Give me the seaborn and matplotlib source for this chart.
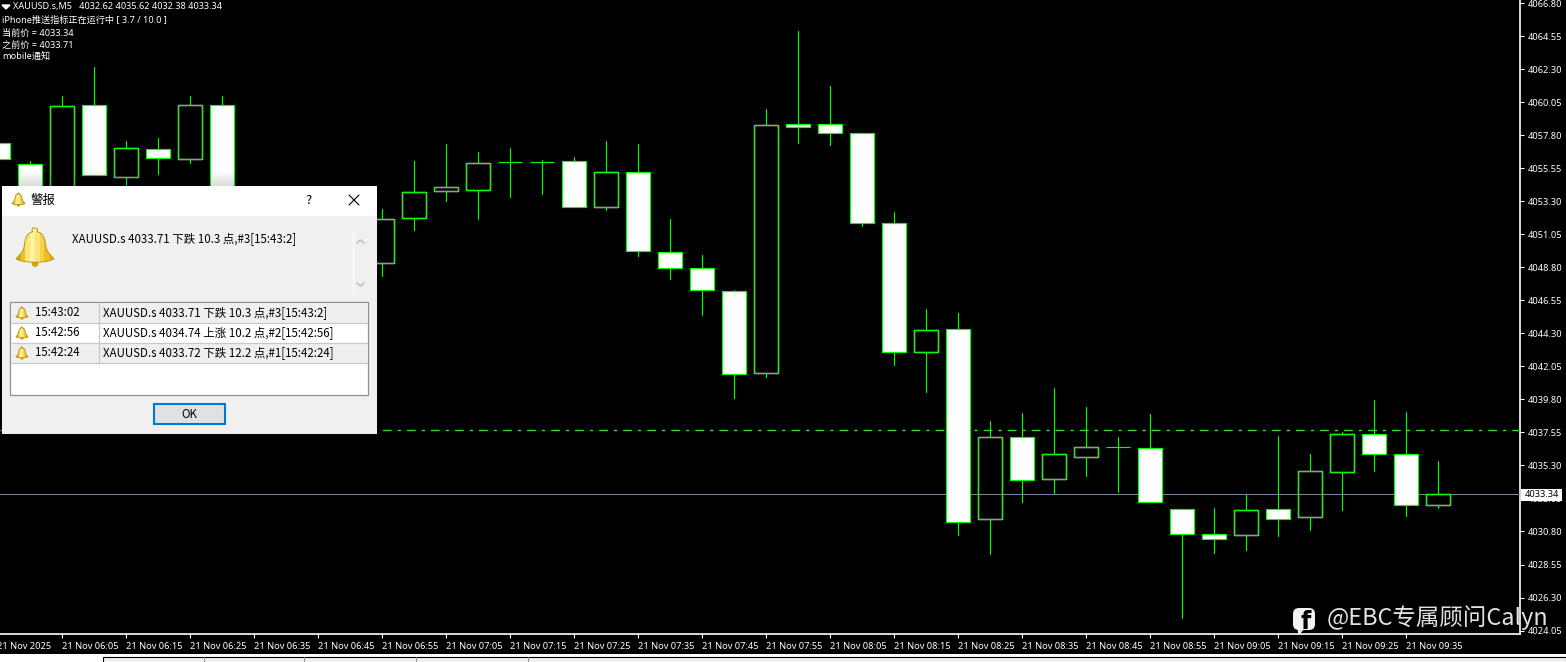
import matplotlib
matplotlib.use("Agg")
import matplotlib.pyplot as plt
from matplotlib.patches import FancyBboxPatch, PathPatch, Rectangle
from matplotlib.path import Path
import numpy as np
import pandas as pd
import seaborn as sns

nan = float("nan")

# Candles from 05:55 to 09:40, 5 minutes each. The nan ones sit behind the alert window
times = ["05:55", "06:00", "06:05", "06:10", "06:15", "06:20", "06:25", "06:30", "06:35", "06:40",
         "06:45", "06:50", "06:55", "07:00", "07:05", "07:10", "07:15", "07:20", "07:25", "07:30",
         "07:35", "07:40", "07:45", "07:50", "07:55", "08:00", "08:05", "08:10", "08:15", "08:20",
         "08:25", "08:30", "08:35", "08:40", "08:45", "08:50", "08:55", "09:00", "09:05", "09:10",
         "09:15", "09:20", "09:25", "09:30", "09:35", "09:40"]
opens = [4057.29, 4055.82, 4054.08, 4059.88, 4054.94, 4056.85, 4056.20, 4059.84, nan, nan,
         nan, nan, 4049.09, 4052.15, 4053.99, 4054.06, 4055.95, 4055.97, 4056.01, 4052.90,
         4055.29, 4049.84, 4048.75, 4047.18, 4041.57, 4058.55, 4058.55, 4057.94, 4051.80, 4043.00,
         4044.57, 4031.62, 4037.21, 4034.41, 4035.85, 4036.56, 4036.46, 4032.30, 4030.60, 4030.54,
         4032.31, 4031.77, 4034.84, 4037.43, 4036.06, 4032.62]
highs = [4057.29, 4056.06, 4060.49, 4062.47, 4057.43, 4057.63, 4060.49, 4060.49, nan, nan,
         nan, nan, 4052.77, 4056.06, 4057.22, 4056.68, 4056.95, 4056.13, 4056.34, 4057.43,
         4057.22, 4052.11, 4049.65, 4047.27, 4059.61, 4064.93, 4061.18, 4057.97, 4052.58, 4045.97,
         4045.70, 4038.33, 4038.88, 4040.58, 4039.29, 4037.24, 4038.81, 4032.33, 4032.40, 4033.29,
         4037.31, 4036.08, 4037.60, 4039.77, 4038.95, 4035.62]
lows = [4056.20, 4053.47, 4053.50, 4055.11, 4054.43, 4055.18, 4055.93, 4054.00, nan, nan,
        nan, nan, 4048.24, 4051.31, 4053.35, 4052.09, 4053.56, 4053.76, 4052.90, 4052.67,
        4049.60, 4047.97, 4045.56, 4039.92, 4041.33, 4057.29, 4057.15, 4051.63, 4042.15, 4040.31,
        4030.56, 4029.27, 4032.81, 4033.42, 4034.58, 4033.49, 4032.78, 4024.90, 4029.34, 4029.54,
        4030.51, 4030.92, 4032.24, 4034.95, 4031.88, 4032.38]
closes = [4056.20, 4053.47, 4059.81, 4055.11, 4056.91, 4056.27, 4059.84, 4054.08, nan, nan,
          nan, nan, 4052.09, 4053.93, 4054.27, 4055.90, 4055.95, 4055.97, 4052.90, 4055.29,
          4049.90, 4048.75, 4047.25, 4041.52, 4058.48, 4058.38, 4057.97, 4051.80, 4043.00, 4044.50,
          4031.48, 4037.21, 4034.34, 4036.05, 4036.55, 4036.56, 4032.78, 4030.66, 4030.26, 4032.23,
          4031.63, 4034.90, 4037.43, 4036.06, 4032.59, 4033.34]

price_ticks = [4066.80, 4064.55, 4062.30, 4060.05, 4057.80, 4055.55, 4053.30, 4051.05, 4048.80, 4046.55,
               4044.30, 4042.05, 4039.80, 4037.55, 4035.30, 4033.05, 4030.80, 4028.55, 4026.30, 4024.05]
current_price = 4033.34
alert_level = 4037.70

legend_lines = ["iPhone推送指标正在运行中 [ 3.7 / 10.0 ]", "当前价 = 4033.34", "之前价 = 4033.71", "mobile通知"]
alert_times = ["15:43:02", "15:42:56", "15:42:24"]
alert_texts = ["XAUUSD.s 4033.71 下跌 10.3 点,#3[15:43:2]",
               "XAUUSD.s 4034.74 上涨 10.2 点,#2[15:42:56]",
               "XAUUSD.s 4033.72 下跌 12.2 点,#1[15:42:24]"]

W, H = 1566, 662
GREEN = "#00ff00"
FONT = ["Noto Sans", "Noto Sans CJK SC", "DejaVu Sans"]
DIALOG_FONT = ["Noto Sans CJK SC", "DejaVu Sans"]

sns.set_theme(style="dark", rc={"axes.facecolor": "black", "figure.facecolor": "black"})
plt.rcParams["font.family"] = FONT

df = pd.DataFrame({"time": times, "open": opens, "high": highs, "low": lows, "close": closes})
df["bar"] = np.arange(len(df))
shown = df.dropna()
down = shown[shown["close"] <= shown["open"]]
up = shown[shown["close"] > shown["open"]]
wicks = shown.melt(id_vars="bar", value_vars=["high", "low"], value_name="price")
wicks["candle"] = wicks["bar"]

fig = plt.figure(figsize=(W / 100, H / 100), dpi=100)
ax = fig.add_axes([0, 1 - 633.5 / H, 1519.5 / W, 633.5 / H])

sns.lineplot(data=wicks, x="bar", y="price", units="candle", estimator=None, color=GREEN,
             lw=0.8, legend=False, ax=ax, zorder=2)
ax.bar(up["bar"], up["close"] - up["open"], bottom=up["open"], width=0.75, color="black", zorder=3)
ax.axhline(current_price, color="#7488a4", lw=0.72, zorder=4)
ax.axhline(alert_level, color="#28e028", lw=1.0, ls=(1.44, (6.3, 4.3, 2.4, 4.3)), zorder=4)
ax.bar(down["bar"], down["close"] - down["open"], bottom=down["open"], width=0.75, color="white",
       edgecolor=GREEN, lw=0.85, zorder=5)
ax.bar(up["bar"], up["close"] - up["open"], bottom=up["open"], width=0.75, facecolor="none",
       edgecolor=GREEN, lw=0.75, zorder=5)

ax.set_xlim(2 / 32, 1521.5 / 32)
ax.set_ylim(4023.85, 4067.01)
ax.set_xlabel("")
ax.set_ylabel("")
ax.grid(False)
for side in ["top", "left"]:
    ax.spines[side].set_visible(False)
for side in ["right", "bottom"]:
    ax.spines[side].set_color("white")
    ax.spines[side].set_linewidth(1.2)

ax.yaxis.tick_right()
ax.set_yticks(price_ticks, ["{:.2f}".format(p) for p in price_ticks])
ax.tick_params(axis="y", length=3, width=0.8, color="white", labelcolor="white", labelsize=6.65, pad=3, right=True)
tick_bars = list(range(2, 45, 2))
ax.set_xticks(tick_bars, ["21 Nov " + times[i] for i in tick_bars], ha="left")
ax.tick_params(axis="x", length=3, width=0.8, color="white", labelcolor="white", labelsize=6.65, pad=3, bottom=True)
ax.text(-0.03, -0.0135, "21 Nov 2025", transform=ax.get_xaxis_transform(), color="white", fontsize=6.65,
        ha="left", va="top", clip_on=False)

# everything outside the plot, in screen pixels
ov = fig.add_axes([0, 0, 1, 1], facecolor="none", zorder=10)
ov.set_xlim(0, W)
ov.set_ylim(H, 0)
ov.axis("off")


def bell(cx, cy, r):
    verts = [(0, -1), (-0.14, -1), (-0.16, -0.82), (-0.12, -0.8),
             (-0.5, -0.72), (-0.52, -0.35), (-0.58, 0.0),
             (-0.62, 0.3), (-0.9, 0.5), (-1, 0.62),
             (-0.7, 0.86), (0.7, 0.86), (1, 0.62),
             (0.9, 0.5), (0.62, 0.3), (0.58, 0.0),
             (0.52, -0.35), (0.5, -0.72), (0.12, -0.8),
             (0.16, -0.82), (0.14, -1), (0, -1)]
    codes = [Path.MOVETO] + [Path.LINETO] * 3 + [Path.CURVE4] * 18
    path = Path([(cx + x * r, cy + y * r) for x, y in verts], codes)
    shape = PathPatch(path, facecolor="none", edgecolor="#b88a08", lw=0.6, zorder=23)
    ov.add_patch(shape)
    grad = np.array([[0.0, 0.35, 0.8, 1.0, 0.8, 0.55, 0.3, 0.15]])
    cmap = matplotlib.colors.LinearSegmentedColormap.from_list("gold", ["#d9a600", "#f5d040", "#fff2a0"])
    im = ov.imshow(grad, cmap=cmap, extent=(cx - r, cx + r, cy + r, cy - r), aspect="auto", zorder=22)
    im.set_clip_path(shape)
    ov.add_patch(plt.Circle((cx, cy + 0.87 * r), 0.14 * r, color="#d6a400", zorder=21))


def dlg_text(x, y, s, size=8.25, color="black", ha="left"):
    ov.text(x, y, s, fontsize=size, color=color, ha=ha, va="center", family=DIALOG_FONT, zorder=25)


def rect(x0, y0, x1, y1, **kw):
    ov.add_patch(Rectangle((x0, y0), x1 - x0, y1 - y0, **kw))


# chart header
ov.add_patch(plt.Polygon([(2, 5), (10, 5), (6, 9)], color="white"))
ov.text(13, 7, "XAUUSD.s,M5   4032.62 4035.62 4032.38 4033.34", color="white", fontsize=6.55, va="center")
for y, s in zip([20.5, 33, 45, 57], legend_lines):
    ov.text(2, y, s, color="white", fontsize=6.6, va="center")

# price tag on the axis
rect(1521, 489, 1562, 500.5, facecolor="white", edgecolor="none", zorder=6)
ov.text(1541.5, 494.7, "4033.34", color="black", fontsize=6.65, ha="center", va="center", zorder=7)

# window strip at the bottom
rect(0, 654, W, H, facecolor="white", edgecolor="none")
rect(102.5, 656.7, W, H + 2, facecolor="#f0f0f0", edgecolor="black", lw=0.8)
for x in [203.5, 303.5, 415.5, 527.5]:
    ov.plot([x, x], [657, H], color="#8a8a8a", lw=0.7)

# shadow of the alert window on the candles above it
shadow = np.zeros((16, 2, 4))
shadow[:, :, 3] = np.linspace(0, 0.14, 16)[:, None]
ov.imshow(shadow, extent=(0, 384, 186, 170), aspect="auto", zorder=15)

# alert window
rect(2, 186, 377, 434, facecolor="#f0f0f0", edgecolor="none", zorder=20)
rect(2, 186, 377, 216, facecolor="white", edgecolor="none", zorder=20)
bell(18.5, 199.5, 6.5)
dlg_text(31, 200.5, "警报", size=9)
dlg_text(309, 200, "?", size=9.5, ha="center")
ov.plot([349, 359], [195, 205], color="black", lw=0.8, zorder=25)
ov.plot([349, 359], [205, 195], color="black", lw=0.8, zorder=25)
bell(35, 247, 19)
dlg_text(72, 239, alert_texts[0])
ov.plot([352.5, 352.5], [232, 293], color="white", lw=0.9, zorder=25)
ov.plot([357, 360.5, 364], [243, 240, 243], color="#c4c4c4", lw=1.3, zorder=25)
ov.plot([357, 360.5, 364], [283, 286, 283], color="#c4c4c4", lw=1.3, zorder=25)

rect(10, 301.5, 368, 394.5, facecolor="white", edgecolor="#8e8f94", lw=0.9, zorder=21)
for i in range(3):
    y0 = 303 + 20 * i
    rect(11.5, y0, 366.5, y0 + 19.5, facecolor="#efefef" if i != 1 else "white", edgecolor="none", zorder=21)
    ov.plot([11.5, 366.5], [y0 + 19.5, y0 + 19.5], color="#c8c8c8", lw=0.9, zorder=22)
    bell(22, y0 + 10, 6)
    dlg_text(34.5, y0 + 10, alert_times[i])
    dlg_text(103, y0 + 10, alert_texts[i])
ov.plot([98.5, 98.5], [303, 362], color="#c8c8c8", lw=0.9, zorder=22)

rect(154, 404, 225, 424, facecolor="#e1e1e1", edgecolor="#0078d7", lw=1.5, zorder=21)
dlg_text(189, 414, "OK", ha="center")

# watermark
ov.add_patch(FancyBboxPatch((1295, 610), 18, 18, boxstyle="round,pad=2,rounding_size=6", facecolor="#f2f2f2",
                            edgecolor="none", zorder=8))
ov.add_patch(plt.Polygon([(1298, 628), (1304, 628), (1299, 634)], color="#f2f2f2", zorder=8))
ov.text(1305.5, 622, "f", color="black", fontsize=17, fontweight="bold", ha="center", va="center",
        family="DejaVu Sans", zorder=9)
ov.text(1327, 618, "@EBC专属顾问Calyn", color="#e2e2e2", fontsize=16.9, va="center", family=DIALOG_FONT, zorder=9)

ov.set_xlim(0, W)
ov.set_ylim(H, 0)

fig.savefig("out.png", dpi=100, facecolor="black")
